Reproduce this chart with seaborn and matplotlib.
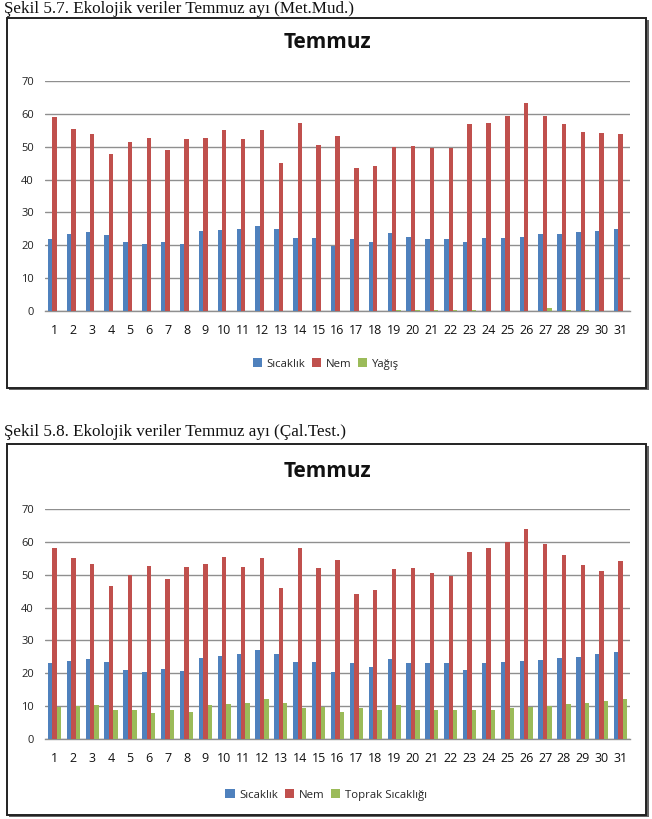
import matplotlib
matplotlib.use("Agg")
import matplotlib.pyplot as plt
from matplotlib.patches import Rectangle, Patch
import seaborn as sns
import pandas as pd

sns.set_theme(style="white")
plt.rcParams['font.family'] = ['Open Sans', 'DejaVu Sans']

days = list(range(1, 32))

# Chart 1 (Met.Mud.)
sicaklik1 = [21.8, 23.3, 23.9, 23.0, 20.9, 20.3, 20.9, 20.5, 24.3, 24.6, 25.0, 25.9, 25.0, 22.3, 22.3, 19.7,
             21.8, 21.1, 23.7, 22.6, 21.8, 21.8, 20.9, 22.3, 22.3, 22.6, 23.3, 23.3, 23.9, 24.3, 25.0]
nem1 = [59.1, 55.4, 53.9, 47.7, 51.3, 52.6, 49.1, 52.4, 52.6, 55.2, 52.4, 55.2, 44.9, 57.2, 50.6, 53.3,
        43.5, 44.1, 49.8, 50.3, 49.7, 49.7, 56.8, 57.2, 59.5, 63.3, 59.5, 56.8, 54.5, 54.1, 53.9]
yagis1 = [0, 0, 0, 0, 0, 0, 0, 0, 0, 0, 0, 0, 0, 0, 0, 0,
          0, 0, 0.3, 0.3, 0.3, 0.3, 0.3, 0, 0, 0, 0.9, 0.3, 0.3, 0, 0]

# Chart 2 (Çal.Test.)
sicaklik2 = [23.0, 23.7, 24.4, 23.3, 21.0, 20.4, 21.3, 20.6, 24.6, 25.3, 26.0, 27.2, 26.0, 23.3, 23.3, 20.4,
             23.0, 21.9, 24.4, 23.0, 23.0, 23.0, 21.0, 23.0, 23.3, 23.7, 24.0, 24.6, 25.1, 25.8, 26.4]
nem2 = [58.2, 55.1, 53.4, 46.5, 49.8, 52.7, 48.6, 52.5, 53.2, 55.4, 52.5, 55.1, 45.9, 58.2, 52.1, 54.5,
        44.2, 45.2, 51.8, 52.0, 50.6, 49.7, 56.8, 58.2, 60.1, 64.0, 59.5, 56.0, 53.1, 51.1, 54.1]
toprak2 = [9.7, 10.0, 10.3, 8.9, 8.7, 8.0, 8.7, 8.3, 10.3, 10.7, 10.9, 12.1, 10.9, 9.3, 9.7, 8.2,
           9.3, 8.9, 10.2, 8.9, 8.9, 8.7, 8.7, 8.9, 9.3, 9.7, 9.9, 10.6, 10.9, 11.6, 12.2]

series1 = ["Sıcaklık", "Nem", "Yağış"]
series2 = ["Sıcaklık", "Nem", "Toprak Sıcaklığı"]
colors = ["#4F81BD", "#C0504D", "#9BBB59"]
yticks = [0, 10, 20, 30, 40, 50, 60, 70]
title = "Temmuz"
caption1 = "Şekil 5.7. Ekolojik veriler Temmuz ayı (Met.Mud.)"
caption2 = "Şekil 5.8. Ekolojik veriler Temmuz ayı (Çal.Test.)"

W, H = 652, 819
fig = plt.figure(figsize=(W / 100, H / 100), dpi=100)


def fx(px):
    return px / W


def fy(py):
    return 1 - py / H


def make_df(names, vals):
    rows = []
    for name, v in zip(names, vals):
        for d, val in zip(days, v):
            rows.append({"Gün": str(d), "Değer": val, "Seri": name})
    return pd.DataFrame(rows)


def draw_chart(box_top, box_bot, ax_top, ax_bot, title_y, legend_y, names, vals):
    # frame with shadow
    fig.patches.append(Rectangle((fx(9), fy(box_bot + 2)), fx(640), (box_bot - box_top) / H,
                                 transform=fig.transFigure, facecolor="#666666", edgecolor="none", zorder=0))
    fig.patches.append(Rectangle((fx(7), fy(box_bot)), fx(639), (box_bot - box_top) / H,
                                 transform=fig.transFigure, facecolor="white", edgecolor="#222222",
                                 linewidth=1.4, zorder=1))
    ax = fig.add_axes([fx(45), fy(ax_bot), fx(585), (ax_bot - ax_top) / H])
    ax.set_zorder(2)
    ax.patch.set_alpha(0)
    df = make_df(names, vals)
    sns.barplot(data=df, x="Gün", y="Değer", hue="Seri", palette=colors, width=0.7,
                saturation=1, ax=ax, legend=False, linewidth=0, zorder=3)
    ax.set_ylim(0, 70)
    ax.set_yticks(yticks)
    ax.set_yticklabels([str(t) for t in yticks], fontsize=8, color="#222222")
    ax.set_xticks(range(31))
    ax.set_xticklabels([str(d) for d in days], fontsize=9, color="#111111")
    ax.set_xlim(-0.5, 30.5)
    ax.grid(axis="y", color="#8f8f8f", linewidth=1.0, zorder=0)
    ax.set_axisbelow(True)
    for s in ["top", "right", "left"]:
        ax.spines[s].set_visible(False)
    ax.spines["bottom"].set_color("#8f8f8f")
    ax.spines["bottom"].set_linewidth(1.0)
    ax.tick_params(axis="both", length=0)
    ax.tick_params(axis="y", pad=8)
    ax.tick_params(axis="x", pad=9)
    ax.set_xlabel("")
    ax.set_ylabel("")
    fig.text(fx(327), fy(title_y), title, ha="center", va="center", fontsize=15, fontweight="bold",
             color="#111111", zorder=5)
    handles = [Patch(facecolor=c, edgecolor="none") for c in colors]
    fig.legend(handles, names, loc="center", bbox_to_anchor=(fx(326), fy(legend_y)), ncol=3,
               frameon=False, fontsize=8.2, handlelength=0.8, handleheight=0.8, handletextpad=0.4,
               columnspacing=0.6)
    return ax


fig.text(fx(4), fy(9), caption1, ha="left", va="center", fontsize=12.3,
         family=["Liberation Serif", "DejaVu Serif"], color="#111111")
fig.text(fx(4), fy(432), caption2, ha="left", va="center", fontsize=12.3,
         family=["Liberation Serif", "DejaVu Serif"], color="#111111")

draw_chart(18, 388, 81, 311, 43, 364, series1, [sicaklik1, nem1, yagis1])
draw_chart(444, 815, 509, 739, 472, 795, series2, [sicaklik2, nem2, toprak2])

fig.savefig("out.png", dpi=100)
